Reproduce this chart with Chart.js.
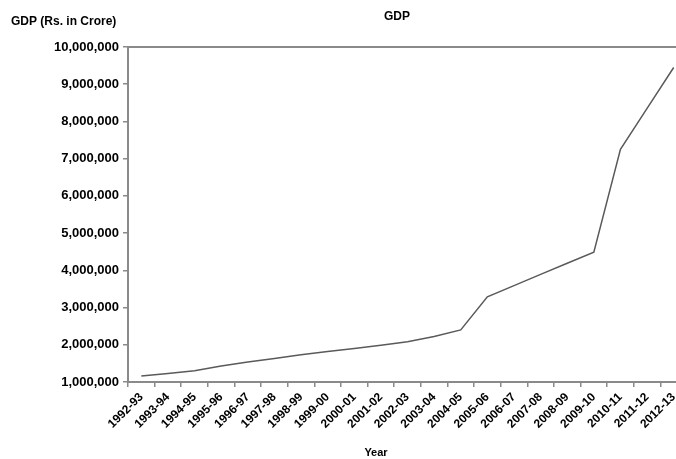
<!DOCTYPE html>
<html>
<head>
<meta charset="utf-8">
<script src="https://cdn.jsdelivr.net/npm/chart.js@4/dist/chart.umd.min.js"></script>
<style>
  html, body { margin: 0; padding: 0; background: #fff; overflow: hidden; }
  #wrap { width: 700px; height: 459px; }
</style>
</head>
<body>
<div id="wrap"><canvas id="myChart" width="700" height="459"></canvas></div>
<script>
const $ = (selector)=>{
    return document.querySelector(selector);
}

// categories (fiscal years) and GDP values
const years = ['1992-93','1993-94','1994-95','1995-96','1996-97','1997-98','1998-99','1999-00',
    '2000-01','2001-02','2002-03','2003-04','2004-05','2005-06','2006-07','2007-08',
    '2008-09','2009-10','2010-11','2011-12','2012-13'];
const gdp = [1160000, 1230000, 1300000, 1430000, 1540000, 1630000, 1730000, 1820000,
    1900000, 1990000, 2080000, 2220000, 2400000, 3290000, 3590000, 3890000,
    4190000, 4490000, 7250000, 8350000, 9450000];
const yMin = 1000000;
const yMax = 10000000;
const yStep = 1000000;

const fam = '"Liberation Sans", Arial, sans-serif';

// draws the top frame line and the free-standing texts
const extras = {
    id: 'extras',
    afterDraw(chart){
        const ctx = chart.ctx;
        const area = chart.chartArea;
        ctx.save();
        ctx.strokeStyle = '#8a8a8a';
        ctx.lineWidth = 2;
        ctx.beginPath();
        ctx.moveTo(area.left, area.top);
        ctx.lineTo(chart.width, area.top);
        ctx.stroke();

        ctx.fillStyle = '#000';
        ctx.font = 'bold 12px ' + fam;
        ctx.textBaseline = 'middle';
        ctx.textAlign = 'left';
        ctx.fillText('GDP (Rs. in Crore)', 11, 22);
        ctx.textAlign = 'center';
        ctx.fillText('GDP', 397, 17);
        ctx.font = 'bold 11px ' + fam;
        ctx.fillText('Year', 376, 453);
        ctx.restore();
    }
};

new Chart($('#myChart').getContext('2d'), {
    type: 'line',
    data: {
        labels: years,
        datasets: [{
            data: gdp,
            borderColor: '#5a5a5a',
            borderWidth: 1.5,
            pointRadius: 0,
            tension: 0,
            fill: false
        }]
    },
    options: {
        responsive: false,
        animation: false,
        layout: { padding: { top: 47, right: 13, left: 0, bottom: 0 } },
        plugins: {
            legend: { display: false },
            title: { display: false },
            tooltip: { enabled: false }
        },
        scales: {
            x: {
                offset: true,
                grid: { offset: true, drawOnChartArea: false, tickLength: 5, color: '#8a8a8a', lineWidth: 1.5 },
                border: { color: '#8a8a8a', width: 2 },
                ticks: {
                    color: '#000',
                    font: { family: fam, size: 12, weight: 'bold' },
                    minRotation: 45,
                    maxRotation: 45,
                    autoSkip: false,
                    padding: 3
                },
                afterFit(scale){ scale.height = 77; }
            },
            y: {
                min: yMin,
                max: yMax,
                grid: { drawOnChartArea: false, tickLength: 5, color: '#8a8a8a', lineWidth: 1.5 },
                border: { color: '#8a8a8a', width: 2 },
                ticks: {
                    stepSize: yStep,
                    color: '#000',
                    font: { family: fam, size: 13, weight: 'bold' },
                    padding: 4,
                    callback: (v)=> v.toLocaleString('en-US')
                },
                afterFit(scale){ scale.width = 128; }
            }
        }
    },
    plugins: [extras]
});
</script>
</body>
</html>
